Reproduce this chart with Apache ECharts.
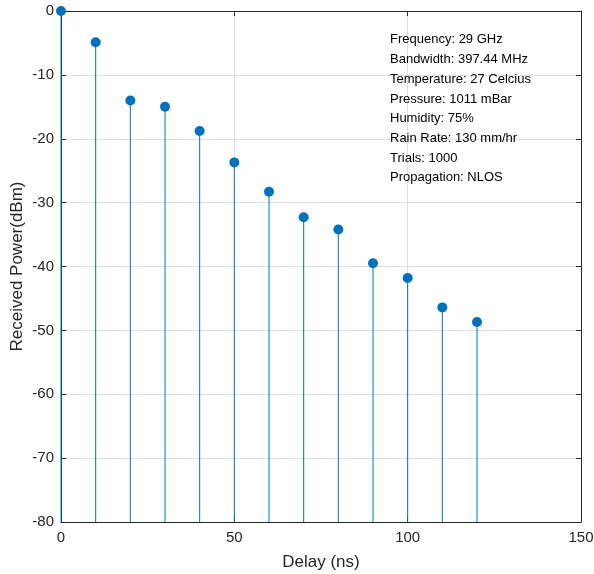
<!DOCTYPE html>
<html>
<head>
<meta charset="utf-8">
<script src="https://cdn.jsdelivr.net/npm/echarts@6/dist/echarts.min.js"></script>
<style>html,body{margin:0;padding:0;background:#fff}#c{width:594px;height:574px}</style>
</head>
<body>
<div id="c"></div>
<script>
const delays = [0, 10, 20, 30, 40, 50, 60, 70, 80, 90, 100, 110, 120];
const powers = [0, -4.9, -14.0, -15.0, -18.8, -23.7, -28.3, -32.3, -34.2, -39.5, -41.8, -46.4, -48.7];
const infoLines = [
  'Frequency: 29 GHz',
  'Bandwidth: 397.44 MHz',
  'Temperature: 27 Celcius',
  'Pressure: 1011 mBar',
  'Humidity: 75%',
  'Rain Rate: 130 mm/hr',
  'Trials: 1000',
  'Propagation: NLOS'
];
const xTitle = 'Delay (ns)';
const yTitle = 'Received Power(dBm)';
const yBase = -80;

const color = '#0072BD';
const axisColor = '#262626';
const font = 'Liberation Sans, Arial, Helvetica, sans-serif';
const chart = echarts.init(document.getElementById('c'), null, {renderer: 'canvas'});
const pts = delays.map((d, i) => [d, powers[i]]);

const axisCommon = {
  axisLine: {show: true, onZero: false, lineStyle: {color: axisColor, width: 1}},
  axisTick: {show: true, inside: true, length: 5, lineStyle: {color: axisColor}},
  axisLabel: {color: axisColor, fontSize: 15, fontFamily: font},
  splitLine: {show: false}
};

chart.setOption({
  animation: false,
  backgroundColor: '#fff',
  grid: {left: 61, top: 11, width: 520, height: 511, containLabel: false, outerBoundsMode: 'none'},
  xAxis: [
    Object.assign({}, axisCommon, {
      type: 'value', min: 0, max: 150, interval: 50, position: 'bottom',
      name: xTitle, nameLocation: 'middle', nameGap: 32, nameMoveOverlap: false,
      nameTextStyle: {color: axisColor, fontSize: 17, fontFamily: font},
      axisLabel: {color: axisColor, fontSize: 15, fontFamily: font, margin: 8},
      splitLine: {show: true, lineStyle: {color: '#dfdfdf', width: 1}}
    }),
    Object.assign({}, axisCommon, {
      type: 'value', min: 0, max: 150, interval: 50, position: 'top',
      axisLabel: {show: false}
    })
  ],
  yAxis: [
    Object.assign({}, axisCommon, {
      type: 'value', min: -80, max: 0, interval: 10, position: 'left',
      name: yTitle, nameLocation: 'middle', nameGap: 35, nameMoveOverlap: false,
      nameTextStyle: {color: axisColor, fontSize: 17, fontFamily: font},
      axisLabel: {color: axisColor, fontSize: 15, fontFamily: font, margin: 7},
      splitLine: {show: true, lineStyle: {color: '#dfdfdf', width: 1}}
    }),
    Object.assign({}, axisCommon, {
      type: 'value', min: -80, max: 0, interval: 10, position: 'right',
      axisLabel: {show: false}
    })
  ],
  graphic: [{
    type: 'text', left: 390, top: 30,
    style: {
      text: infoLines.join('\n'), fill: '#000', fontSize: 13, fontFamily: font,
      lineHeight: 19.7
    },
    z: 100
  }],
  series: [
    {
      type: 'custom',
      xAxisIndex: 0, yAxisIndex: 0,
      data: pts,
      clip: false,
      renderItem: function (params, api) {
        const top = api.coord([api.value(0), api.value(1)]);
        const bot = api.coord([api.value(0), yBase]);
        return {
          type: 'line',
          shape: {x1: top[0], y1: top[1], x2: bot[0], y2: bot[1]},
          style: {stroke: color, lineWidth: 1, opacity: 1}
        };
      },
      z: 3
    },
    {
      type: 'scatter',
      xAxisIndex: 0, yAxisIndex: 0,
      data: pts,
      symbol: 'circle', symbolSize: 10,
      clip: false,
      itemStyle: {color: color, opacity: 1},
      z: 4
    }
  ]
});
</script>
</body>
</html>
